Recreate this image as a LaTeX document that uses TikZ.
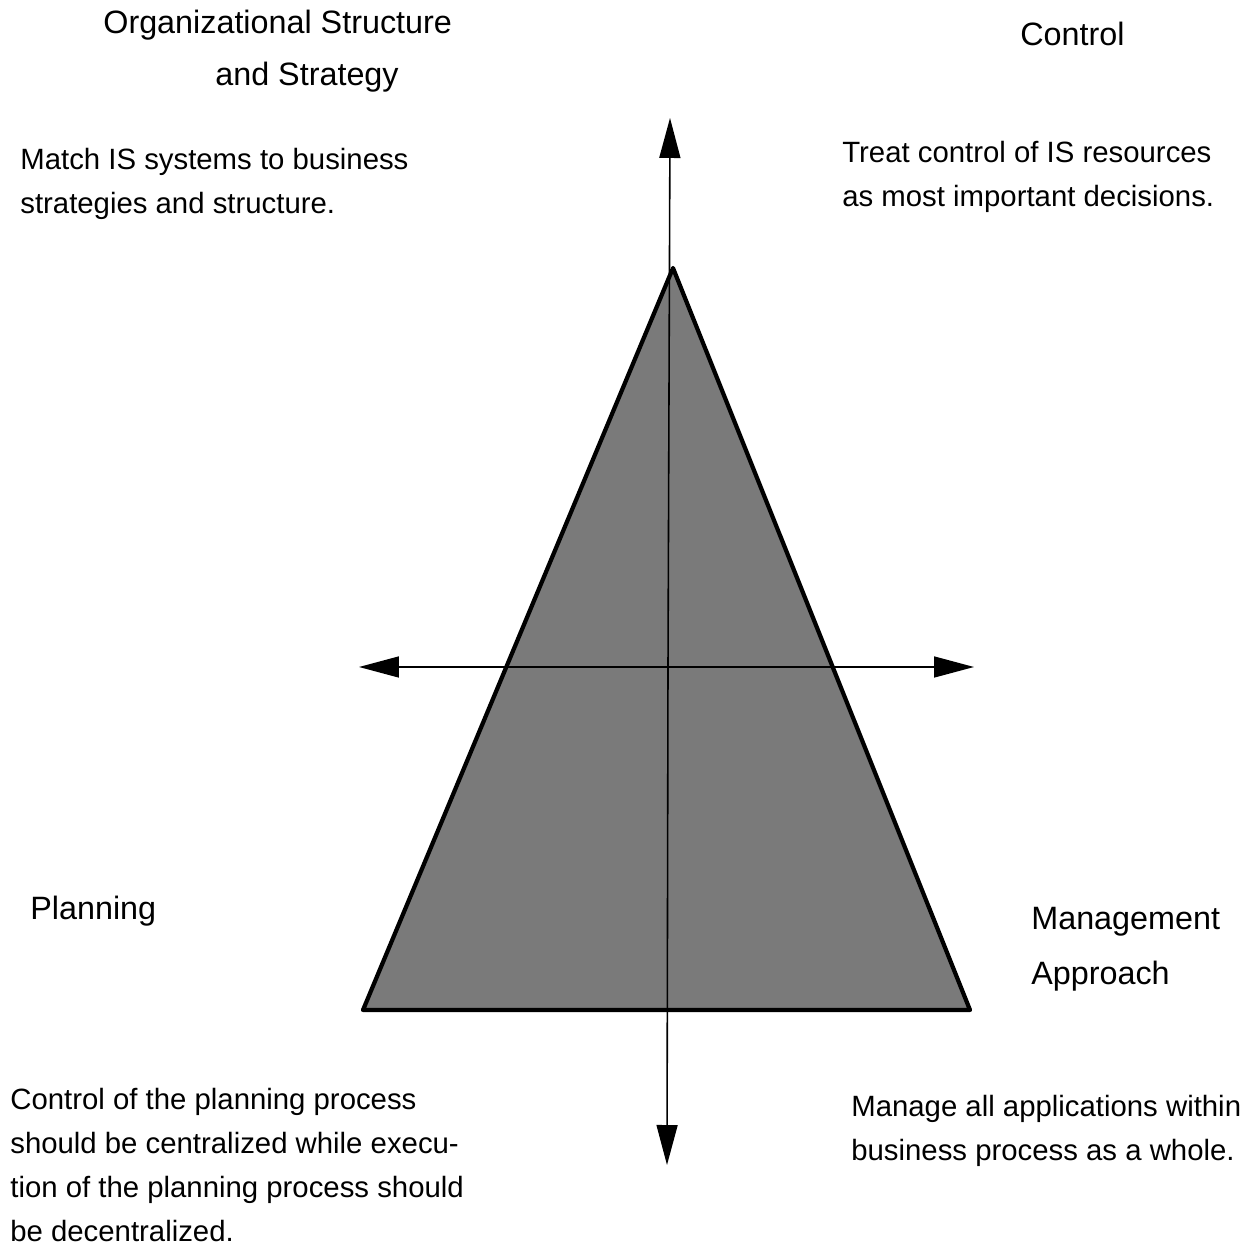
\documentclass[tikz,border=0pt]{standalone}
\usepackage{fontspec}
\setmainfont{Liberation Sans}
\usetikzlibrary{arrows.meta}
\begin{document}
\begin{tikzpicture}[x=0.02cm, y=-0.02cm,
	bigtxt/.style={inner sep=0, font=\fontsize{18.4}{31}\selectfont},
	smalltxt/.style={inner sep=0, align=left, font=\fontsize{16.7}{25}\selectfont},
	axis/.style={line width=0.9pt, -{Triangle[length=0.8cm, width=0.42cm]}}]
	\useasboundingbox (0, 0) rectangle (1252, 1246);
	% pyramid
	\coordinate (apex) at (673, 268);
	\coordinate (baseL) at (363, 1010);
	\coordinate (baseR) at (970, 1010);
	\draw[line width=2.4pt, line join=round, fill=black!52] (apex) -- (baseR) -- (baseL) -- cycle;
	% axes
	\coordinate (mid) at (668, 667);
	\coordinate (top) at (670, 118);
	\coordinate (bottom) at (667, 1165);
	\coordinate (left) at (359, 667);
	\coordinate (right) at (974, 667);
	\draw[axis] (mid) -- (top);
	\draw[axis] (mid) -- (bottom);
	\draw[axis] (mid) -- (left);
	\draw[axis] (mid) -- (right);
	% headings
	\node[bigtxt, anchor=base west] (orgA) at (103, 34) {Organizational Structure};
	\node[bigtxt, anchor=base west] (orgB) at (215, 86) {and Strategy};
	\node[bigtxt, anchor=base west] (control) at (1020, 46) {Control};
	\node[bigtxt, anchor=base west] (planning) at (30, 920) {Planning};
	\node[bigtxt, anchor=north west, align=left] (mgmt) at (1031, 907) {Management\\Approach};
	% descriptions
	\node[smalltxt, anchor=north west] (match) at (20, 148) {Match IS systems to business\\strategies and structure.};
	\node[smalltxt, anchor=north west] (treat) at (842, 141) {Treat control of IS resources\\as most important decisions.};
	\node[smalltxt, anchor=north west] (plan) at (10, 1088) {Control of the planning process\\should be centralized while execu-\\tion of the planning process should\\be decentralized.};
	\node[smalltxt, anchor=north west] (manage) at (851, 1095) {Manage all applications within\\business process as a whole.};
\end{tikzpicture}
\end{document}
